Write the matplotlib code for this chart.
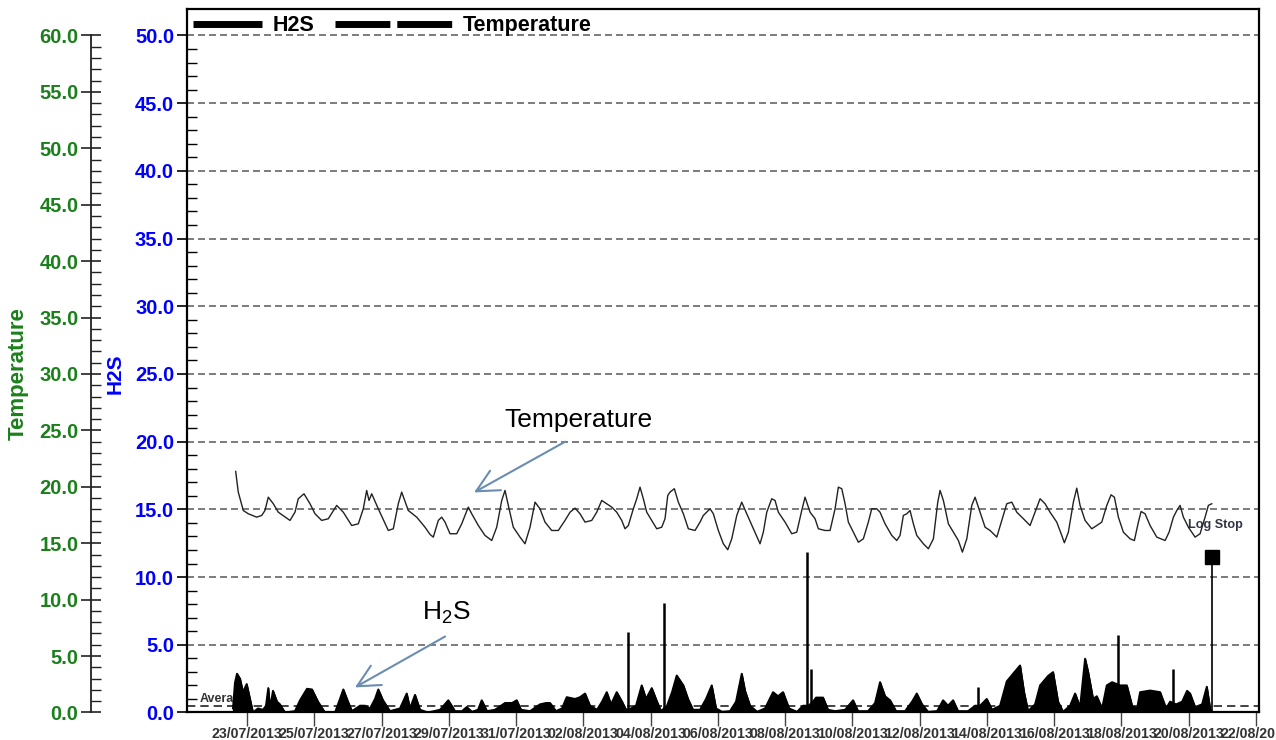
import numpy as np
import matplotlib
matplotlib.use('Agg')
import matplotlib.pyplot as plt
import matplotlib.dates as mdates
from matplotlib.ticker import FixedLocator, FormatStrFormatter
from matplotlib.lines import Line2D
from datetime import datetime

plt.rcParams['font.family'] = ['Liberation Sans', 'DejaVu Sans']
plt.rcParams['font.weight'] = 'bold'
plt.rcParams['mathtext.default'] = 'regular'

# ---------------- data (days since 23/07/2013 00:00) ----------------
temp_days = [
    -0.336, -0.259, -0.110, 0.039, 0.288, 0.437, 0.535, 0.633, 0.782, 0.931,
    1.279, 1.427, 1.525, 1.695, 1.873, 2.022, 2.221, 2.418, 2.667, 2.863,
    3.113, 3.310, 3.458, 3.559, 3.628, 3.708, 3.904, 4.202, 4.350, 4.499,
    4.600, 4.796, 5.046, 5.293, 5.442, 5.540, 5.688, 5.789, 5.888, 6.036,
    6.236, 6.384, 6.580, 6.682, 6.878, 7.077, 7.276, 7.425, 7.574, 7.672,
    7.770, 7.918, 8.118, 8.266, 8.415, 8.564, 8.712, 8.861, 9.060, 9.257,
    9.456, 9.605, 9.753, 9.902, 10.051, 10.250, 10.399, 10.547, 10.696, 10.845,
    10.993, 11.142, 11.240, 11.338, 11.487, 11.588, 11.686, 11.784, 11.885, 12.034,
    12.183, 12.331, 12.429, 12.510, 12.578, 12.706, 12.825, 12.974, 13.122, 13.321,
    13.470, 13.568, 13.768, 13.866, 14.014, 14.163, 14.294, 14.413, 14.562, 14.710,
    14.859, 15.055, 15.254, 15.352, 15.454, 15.602, 15.700, 15.798, 15.998, 16.197,
    16.346, 16.494, 16.592, 16.741, 16.890, 16.988, 17.187, 17.336, 17.485, 17.583,
    17.684, 17.782, 17.880, 18.028, 18.177, 18.326, 18.474, 18.575, 18.724, 18.822,
    18.971, 19.170, 19.319, 19.417, 19.515, 19.616, 19.714, 19.813, 19.914, 20.110,
    20.259, 20.408, 20.538, 20.607, 20.705, 20.854, 21.002, 21.151, 21.270, 21.401,
    21.549, 21.647, 21.796, 21.945, 22.093, 22.293, 22.441, 22.590, 22.739, 22.887,
    23.084, 23.282, 23.431, 23.580, 23.728, 23.877, 24.076, 24.225, 24.302, 24.421,
    24.570, 24.671, 24.769, 24.918, 25.117, 25.266, 25.414, 25.563, 25.691, 25.789,
    25.908, 26.057, 26.256, 26.384, 26.503, 26.583, 26.702, 26.851, 27.050, 27.297,
    27.416, 27.544, 27.645, 27.743, 27.841, 27.990, 28.189, 28.337, 28.486, 28.584,
    28.685,
]
temp_values = [
    21.36, 19.53, 17.90, 17.61, 17.31, 17.46, 17.90, 19.08, 18.50, 17.75,
    17.02, 17.75, 18.94, 19.38, 18.50, 17.61, 17.02, 17.17, 18.35, 17.75,
    16.57, 16.72, 18.05, 19.68, 18.79, 19.38, 18.05, 16.13, 16.28, 18.50,
    19.53, 17.90, 17.31, 16.42, 15.78, 15.54, 17.02, 17.31, 16.87, 15.84,
    15.84, 16.72, 18.20, 17.61, 16.57, 15.69, 15.24, 16.42, 18.79, 19.68,
    18.35, 16.42, 15.54, 14.95, 16.42, 18.64, 18.05, 16.87, 16.13, 16.13,
    17.02, 17.75, 18.11, 17.61, 16.87, 17.02, 17.75, 18.79, 18.50, 18.20,
    17.75, 17.02, 16.28, 16.57, 18.05, 18.94, 19.97, 18.94, 17.75, 17.02,
    16.28, 16.42, 17.17, 19.23, 19.53, 19.83, 18.64, 17.61, 16.28, 16.13,
    16.87, 17.46, 18.05, 17.61, 16.13, 14.95, 14.42, 15.39, 17.46, 18.64,
    17.61, 16.28, 14.95, 15.98, 17.75, 18.94, 18.79, 17.75, 16.87, 15.84,
    15.98, 17.90, 19.08, 17.75, 17.17, 16.28, 16.13, 16.13, 18.05, 19.97,
    19.83, 18.50, 16.87, 15.98, 15.09, 15.39, 16.87, 18.05, 18.05, 17.75,
    16.72, 15.69, 15.24, 15.69, 17.46, 17.61, 17.90, 16.72, 15.69, 14.95,
    14.51, 15.39, 18.64, 19.68, 18.79, 16.72, 15.98, 15.24, 14.21, 15.39,
    18.35, 19.08, 17.75, 16.42, 16.13, 15.54, 17.02, 18.50, 18.64, 17.75,
    17.17, 16.57, 17.75, 18.94, 18.50, 17.75, 16.87, 15.69, 15.04, 15.98,
    18.64, 19.88, 18.35, 17.02, 16.28, 16.57, 16.87, 18.35, 19.29, 19.08,
    17.31, 15.98, 15.39, 15.24, 16.87, 17.81, 17.61, 16.57, 15.54, 15.24,
    15.98, 17.31, 17.90, 18.35, 17.31, 16.42, 15.54, 15.84, 17.31, 18.35,
    18.50,
]

h2s_days = [
    -0.416, -0.357, -0.297, -0.208, -0.119, -0.009, 0.089, 0.178, 0.327, 0.476,
    0.565, 0.633, 0.684, 0.773, 0.892, 0.981, 1.130, 1.427, 1.576, 1.784,
    1.933, 2.111, 2.319, 2.617, 2.765, 2.864, 3.003, 3.122, 3.360, 3.509,
    3.658, 3.806, 3.904, 4.044, 4.252, 4.550, 4.749, 4.847, 4.996, 5.144,
    5.382, 5.739, 5.986, 6.185, 6.393, 6.533, 6.690, 6.869, 6.979, 7.136,
    7.374, 7.672, 7.880, 8.020, 8.147, 8.415, 8.712, 8.891, 9.010, 9.188,
    9.367, 9.506, 9.753, 9.902, 10.051, 10.199, 10.407, 10.556, 10.696, 10.824,
    10.993, 11.151, 11.270, 11.418, 11.567, 11.736, 11.864, 12.034, 12.191, 12.310,
    12.489, 12.637, 12.777, 12.974, 13.113, 13.262, 13.470, 13.648, 13.818, 13.946,
    14.124, 14.362, 14.540, 14.710, 14.808, 14.957, 15.165, 15.403, 15.641, 15.789,
    15.938, 16.117, 16.355, 16.533, 16.697, 16.830, 16.920, 17.128, 17.276, 17.485,
    17.782, 18.020, 18.168, 18.466, 18.674, 18.822, 18.971, 19.120, 19.298, 19.566,
    19.774, 19.914, 20.071, 20.250, 20.518, 20.696, 20.845, 20.994, 21.142, 21.440,
    21.648, 21.796, 21.995, 22.153, 22.391, 22.590, 22.777, 22.985, 23.104, 23.223,
    23.431, 23.580, 23.818, 23.966, 24.115, 24.264, 24.472, 24.621, 24.770, 24.918,
    25.008, 25.156, 25.266, 25.424, 25.563, 25.721, 25.959, 26.159, 26.316, 26.465,
    26.554, 26.851, 27.149, 27.327, 27.446, 27.624, 27.803, 27.951, 28.040, 28.189,
    28.397, 28.537, 28.635, 28.695,
]
h2s_values = [
    0.3, 2.2, 2.86, 2.5, 1.5, 2.1, 1.0, 0.0, 0.3, 0.2,
    0.5, 1.8, 0.3, 1.6, 0.8, 0.6, 0.0, 0.1, 0.9, 1.75,
    1.7, 0.8, 0.0, 0.0, 1.0, 1.7, 0.8, 0.1, 0.5, 0.5,
    0.3, 1.0, 1.7, 0.9, 0.1, 0.3, 1.4, 0.3, 1.3, 0.2,
    0.0, 0.2, 0.9, 0.1, 0.1, 0.4, 0.05, 0.2, 0.9, 0.1,
    0.2, 0.7, 0.7, 0.9, 0.2, 0.1, 0.6, 0.7, 0.7, 0.1,
    0.3, 1.13, 1.0, 1.13, 1.4, 0.5, 0.2, 0.8, 1.5, 0.6,
    1.5, 0.8, 0.2, 0.3, 0.5, 2.0, 1.0, 1.8, 0.8, 0.1,
    0.5, 1.5, 2.73, 2.0, 1.0, 0.2, 0.2, 1.0, 2.0, 0.3,
    0.05, 0.1, 0.8, 2.86, 1.6, 0.5, 0.05, 0.3, 1.5, 1.2,
    1.5, 0.3, 0.05, 0.5, 0.5, 0.8, 1.1, 1.1, 0.2, 0.1,
    0.2, 0.9, 0.1, 0.1, 0.7, 2.24, 1.2, 0.9, 0.1, 0.1,
    0.8, 1.4, 0.6, 0.05, 0.1, 0.9, 0.5, 0.9, 0.1, 0.1,
    0.5, 0.5, 1.0, 0.2, 0.5, 2.3, 2.86, 3.47, 1.5, 0.1,
    0.6, 2.0, 2.7, 2.98, 0.8, 0.05, 0.5, 1.4, 0.4, 3.97,
    3.0, 1.0, 1.2, 0.3, 2.0, 2.24, 2.0, 2.0, 0.5, 0.3,
    1.5, 1.62, 1.5, 0.3, 0.8, 0.6, 0.8, 1.6, 1.4, 0.4,
    0.6, 1.9, 0.3, 0.0,
]

spike_days = [11.338, 12.408, 16.643, 16.762, 21.737, 25.900, 27.544]
spike_values = [5.93, 8.07, 11.84, 3.2, 1.87, 5.69, 3.22]

logstop_day = 28.69
logstop_value = 11.45
h2s_average = 0.47

tick_days = list(range(0, 31, 2))
h2s_major = [0, 5, 10, 15, 20, 25, 30, 35, 40, 45, 50]
temp_major = [0, 5, 10, 15, 20, 25, 30, 35, 40, 45, 50, 55, 60]

# ---------------- figure ----------------
GREEN = '#1b801b'
BLUE = '#0000ff'
base = mdates.date2num(datetime(2013, 7, 23))

fig = plt.figure(figsize=(12.76, 7.40), dpi=100)
ax = fig.add_axes([0.1463, 0.0372, 0.8404, 0.9500])
H2S_TOP = 51.92
ax.set_ylim(0, H2S_TOP)
ax.set_xlim(base - 1.793, base + 30.09)

for s in ax.spines.values():
    s.set_linewidth(1.6)
    s.set_color('black')

# H2S axis ticks
ax.yaxis.set_major_locator(FixedLocator(h2s_major))
ax.yaxis.set_major_formatter(FormatStrFormatter('%.1f'))
ax.yaxis.set_minor_locator(FixedLocator([v for v in range(1, 51) if v % 5]))
ax.tick_params(axis='y', which='major', direction='out', length=7.5, width=1.2,
               labelsize=14.5, labelcolor=BLUE, pad=1.5)
ax.tick_params(axis='y', which='minor', direction='in', length=7.5, width=1.0)

# x axis
ax.xaxis.set_major_locator(FixedLocator([base + d for d in tick_days]))
ax.xaxis.set_major_formatter(mdates.DateFormatter('%d/%m/%Y'))
ax.tick_params(axis='x', which='major', direction='out', length=10, width=1.0,
               labelsize=10.2, labelcolor='#333333', color='#444444', pad=0.5)

ax.yaxis.grid(True, which='major', linestyle=(0, (4.2, 2.4)), color='#666666', lw=1.2)
ax.set_axisbelow(True)

ax.set_ylabel('H2S', color=BLUE, fontsize=15, fontweight='bold')
ax.yaxis.label.set_va('center')
ax.yaxis.set_label_coords(-0.0669, 0.482)

# Temperature axis
axT = ax.twinx()
axT.set_ylim(0, H2S_TOP * 1.2)
axT.yaxis.tick_left()
axT.yaxis.set_label_position('left')
for s in ['right', 'top', 'bottom']:
    axT.spines[s].set_visible(False)
axT.spines['left'].set_visible(True)
axT.spines['left'].set_position(('outward', 69.1))
axT.spines['left'].set_bounds(0, 60)
axT.spines['left'].set_linewidth(1.3)
axT.spines['left'].set_color('#222222')
axT.yaxis.set_major_locator(FixedLocator(temp_major))
axT.yaxis.set_major_formatter(FormatStrFormatter('%.1f'))
axT.yaxis.set_minor_locator(FixedLocator([v for v in range(1, 60) if v % 5]))
axT.tick_params(axis='y', which='major', direction='inout', length=14.4, width=1.2,
                labelsize=14.5, labelcolor=GREEN, color='#222222', pad=1.5)
axT.tick_params(axis='y', which='minor', direction='in', length=7.2, width=1.0,
                color='#222222')
axT.set_ylabel('Temperature', color=GREEN, fontsize=16, fontweight='bold')
axT.yaxis.label.set_va('center')
axT.yaxis.set_label_coords(-0.1573, 0.482)

# ---------------- data drawing ----------------
tx = base + np.array(temp_days)
axT.plot(tx, temp_values, color='#222222', lw=1.0, zorder=3)

hx = base + np.array(h2s_days)
ax.text(base - 1.398, 1.0, 'Average', fontsize=9, color='#333333',
        va='center', ha='left', zorder=1)
ax.axhline(h2s_average, color='#222222', lw=1.2, ls=(0, (5, 3)), zorder=1.5)
ax.fill_between(hx, 0, h2s_values, color='black', lw=0.8, zorder=2)
ax.plot(hx, h2s_values, color='black', lw=1.4, zorder=2)
ax.vlines(base + np.array(spike_days), 0, spike_values, color='black', lw=1.8, zorder=2)

ax.vlines(base + logstop_day, 0, logstop_value, color='black', lw=1.2, zorder=2)
ax.plot([base + logstop_day], [logstop_value], marker='s', ms=9.4, color='black',
        ls='none', zorder=3)
ax.text(base + 27.98, 13.85, 'Log Stop', fontsize=9.1, color='#333344',
        va='center', ha='left')

# annotations
ARROW = '#6a8db0'
ax.text(base + 9.84, 21.57, 'Temperature', fontsize=19, fontweight='normal',
        ha='center', va='center', color='black')
ax.annotate('', xy=(base + 6.75, 16.25), xytext=(base + 9.46, 20.0),
            arrowprops=dict(arrowstyle='->, head_length=0.8, head_width=0.4',
                            color=ARROW, lw=1.5, mutation_scale=20,
                            shrinkA=0, shrinkB=0))
ax.text(base + 5.92, 7.39, 'H$_2$S', fontsize=19, fontweight='normal',
        ha='center', va='center', color='black')
ax.annotate('', xy=(base + 3.21, 1.85), xytext=(base + 5.89, 5.61),
            arrowprops=dict(arrowstyle='->, head_length=0.8, head_width=0.4',
                            color=ARROW, lw=1.5, mutation_scale=20,
                            shrinkA=0, shrinkB=0))

# legend
h1 = Line2D([], [], color='black', lw=5, solid_capstyle='butt')
leg1 = ax.legend([h1], ['H2S'], loc='upper left', bbox_to_anchor=(0.0059, 0.992),
                 frameon=False, prop={'size': 15.5, 'weight': 'bold'},
                 handlelength=3.2, handletextpad=0.5, borderpad=0, borderaxespad=0)
ax.add_artist(leg1)
h2 = Line2D([], [], color='black', lw=5, ls=(0, (7.9, 1.0)), dash_capstyle='butt')
ax.legend([h2], ['Temperature'], loc='upper left', bbox_to_anchor=(0.1383, 0.992),
          frameon=False, prop={'size': 15.5, 'weight': 'bold'},
          handlelength=5.5, handletextpad=0.42, borderpad=0, borderaxespad=0)

fig.savefig('out.png', dpi=100)
